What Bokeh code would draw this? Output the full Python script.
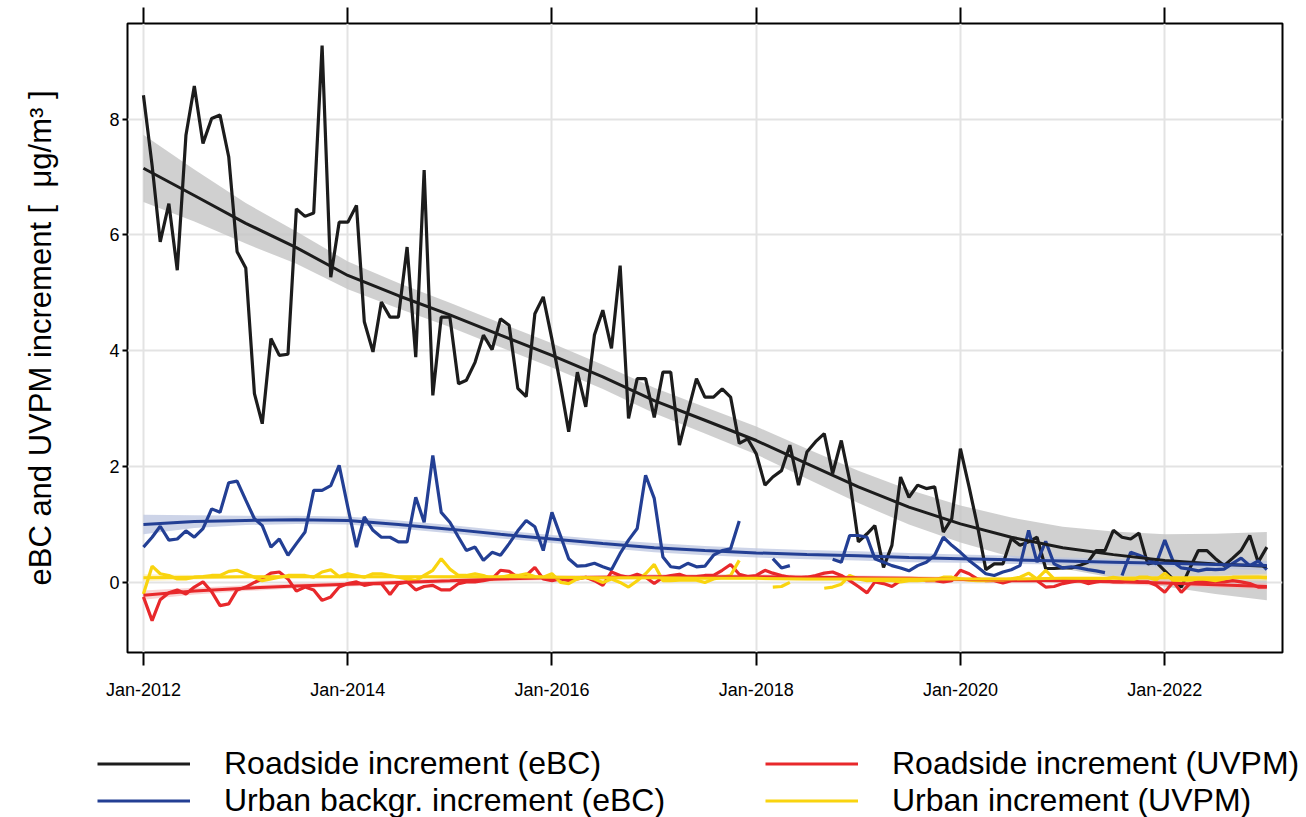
import datetime as dt
import pandas as pd
from bokeh.plotting import figure
from bokeh.layouts import column
from bokeh.models import (Range1d, FixedTicker, DatetimeTickFormatter, DatetimeAxis,
                          CustomJSTickFormatter, Legend, LegendItem)
from bokeh.embed import file_html
from bokeh.resources import INLINE

nan = float("nan")

# ---------------- data (monthly, Jan-2012 .. Jan-2023) ----------------
months = pd.date_range("2012-01-01", periods=133, freq="MS")

roadside_ebc = [
    8.41, 7.20, 5.88, 6.54, 5.39, 7.72, 8.57, 7.58, 8.01, 8.07, 7.35, 5.71,
    5.43, 3.26, 2.74, 4.21, 3.92, 3.94, 6.45, 6.32, 6.38, 9.27, 5.27, 6.22,
    6.22, 6.51, 4.50, 3.98, 4.84, 4.58, 4.58, 5.79, 3.89, 7.12, 3.23, 4.58,
    4.58, 3.43, 3.49, 3.80, 4.27, 4.02, 4.55, 4.44, 3.35, 3.21, 4.64, 4.93,
    4.20, 3.40, 2.60, 3.63, 3.03, 4.27, 4.70, 4.04, 5.47, 2.83, 3.52, 3.52,
    2.85, 3.63, 3.63, 2.37, 2.94, 3.52, 3.20, 3.20, 3.34, 3.20, 2.40, 2.48,
    2.22, 1.68, 1.82, 1.93, 2.37, 1.68, 2.25, 2.43, 2.57, 1.88, 2.45, 1.76,
    0.70, 0.84, 0.98, 0.26, 0.64, 1.82, 1.47, 1.68, 1.62, 1.65, 0.87, 1.10,
    2.31, 1.65, 1.00, 0.22, 0.32, 0.32, 0.76, 0.64, 0.70, 0.78, 0.24, 0.24,
    0.25, 0.25, 0.29, 0.35, 0.55, 0.55, 0.90, 0.78, 0.75, 0.85, 0.32, 0.35,
    0.20, 0.05, -0.08, 0.25, 0.55, 0.55, 0.41, 0.29, 0.42, 0.55, 0.81, 0.35,
    0.61]

urban_ebc = [
    0.61, 0.78, 0.97, 0.73, 0.75, 0.89, 0.78, 0.93, 1.27, 1.21, 1.72, 1.75,
    1.42, 1.10, 0.98, 0.61, 0.75, 0.47, 0.67, 0.87, 1.59, 1.59, 1.67, 2.02,
    1.30, 0.61, 1.13, 0.90, 0.78, 0.78, 0.70, 0.70, 1.47, 1.04, 2.19, 1.21,
    1.04, 0.78, 0.55, 0.61, 0.38, 0.52, 0.47, 0.67, 0.89, 1.07, 0.96, 0.55,
    1.21, 0.80, 0.41, 0.28, 0.29, 0.33, 0.27, 0.22, 0.50, 0.73, 0.93, 1.85,
    1.45, 0.44, 0.27, 0.25, 0.33, 0.27, 0.28, 0.47, 0.55, 0.58, 1.06, nan,
    nan, nan, 0.41, 0.25, 0.29, nan, nan, nan, nan, 0.40, 0.35, 0.81,
    0.81, 0.78, 0.41, 0.35, 0.29, 0.25, 0.20, 0.29, 0.35, 0.47, 0.78, 0.64,
    0.52, 0.38, 0.27, 0.15, 0.12, 0.18, 0.22, 0.29, 0.90, 0.35, 0.71, 0.32,
    0.25, 0.27, 0.25, 0.22, 0.20, 0.17, nan, 0.12, 0.52, 0.47, 0.41, 0.32,
    0.73, 0.35, 0.25, 0.23, 0.20, 0.23, 0.22, 0.23, 0.33, 0.42, 0.29, 0.37,
    0.22]

roadside_uvpm = [
    -0.25, -0.66, -0.30, -0.18, -0.13, -0.20, -0.08, 0.01, -0.16, -0.40, -0.37, -0.13,
    -0.08, 0.00, 0.06, 0.16, 0.18, 0.06, -0.15, -0.08, -0.13, -0.31, -0.25, -0.08,
    -0.02, 0.01, -0.05, -0.02, -0.02, -0.21, -0.02, 0.01, -0.13, -0.07, -0.05, -0.13,
    -0.13, -0.02, 0.01, 0.01, 0.03, 0.06, 0.21, 0.19, 0.09, 0.12, 0.26, 0.06,
    0.03, 0.06, 0.03, 0.06, 0.09, 0.03, -0.05, 0.18, 0.12, 0.09, 0.14, 0.09,
    -0.02, 0.09, 0.12, 0.14, 0.09, 0.10, 0.12, 0.12, 0.21, 0.31, 0.14, 0.10,
    0.12, 0.21, 0.16, 0.12, 0.09, 0.08, 0.09, 0.12, 0.16, 0.18, 0.12, 0.03,
    -0.07, -0.18, 0.01, -0.02, -0.07, 0.03, 0.06, 0.06, 0.03, 0.03, 0.01, 0.03,
    0.21, 0.15, 0.06, 0.03, 0.03, -0.01, 0.03, 0.03, 0.03, 0.03, -0.08, -0.07,
    -0.02, 0.01, 0.03, -0.02, 0.01, 0.03, 0.01, 0.01, 0.03, 0.01, 0.01, -0.05,
    -0.17, 0.01, -0.17, -0.02, 0.01, 0.02, 0.01, 0.01, 0.03, 0.01, -0.02, -0.08,
    -0.08]

urban_uvpm = [
    -0.20, 0.28, 0.15, 0.12, 0.06, 0.06, 0.09, 0.10, 0.12, 0.12, 0.19, 0.21,
    0.15, 0.09, 0.03, 0.06, 0.09, 0.12, 0.12, 0.12, 0.09, 0.18, 0.22, 0.10,
    0.15, 0.12, 0.09, 0.15, 0.15, 0.12, 0.09, 0.06, 0.03, 0.12, 0.21, 0.41,
    0.23, 0.12, 0.12, 0.15, 0.12, 0.06, 0.09, 0.12, 0.12, 0.15, 0.10, 0.09,
    0.15, 0.00, -0.02, 0.06, 0.09, 0.06, 0.00, 0.06, 0.00, -0.08, 0.03, 0.15,
    0.31, 0.03, 0.03, 0.04, 0.04, 0.04, 0.00, 0.06, 0.09, 0.12, 0.38, nan,
    nan, nan, -0.08, -0.07, 0.00, nan, nan, nan, -0.10, -0.08, -0.03, 0.12,
    0.06, 0.03, 0.04, 0.03, 0.03, 0.01, 0.03, 0.03, 0.04, 0.04, 0.09, 0.09,
    0.06, 0.04, 0.03, 0.03, 0.04, 0.04, 0.06, 0.09, 0.16, 0.06, 0.21, 0.06,
    0.04, 0.04, 0.03, 0.03, 0.04, 0.06, 0.09, 0.06, 0.03, 0.09, 0.09, 0.04,
    0.16, 0.03, 0.04, 0.04, 0.06, 0.05, 0.03, 0.06, 0.09, 0.09, 0.09, 0.09,
    0.08]

# smooth trends (every 6 months) with confidence bands
smooth_dates = pd.date_range("2012-01-01", periods=23, freq="6MS")
fit_road_ebc = [7.15, 6.68, 6.20, 5.78, 5.30, 4.95, 4.62, 4.27, 3.92, 3.55, 3.14, 2.80,
                2.45, 2.05, 1.65, 1.30, 1.01, 0.78, 0.60, 0.48, 0.38, 0.32, 0.28]
lo_road_ebc = [6.57, 6.23, 5.85, 5.50, 5.06, 4.73, 4.41, 4.06, 3.71, 3.34, 2.92, 2.57,
               2.21, 1.79, 1.37, 1.00, 0.69, 0.44, 0.24, 0.08, -0.07, -0.20, -0.31]
hi_road_ebc = [7.73, 7.13, 6.55, 6.06, 5.54, 5.17, 4.83, 4.48, 4.13, 3.76, 3.36, 3.03,
               2.69, 2.31, 1.93, 1.60, 1.33, 1.12, 0.96, 0.88, 0.83, 0.84, 0.87]
fit_urb_ebc = [1.00, 1.05, 1.07, 1.08, 1.07, 1.00, 0.92, 0.83, 0.75, 0.67, 0.60, 0.55,
               0.51, 0.48, 0.46, 0.43, 0.41, 0.39, 0.37, 0.35, 0.33, 0.31, 0.29]
lo_urb_ebc = [0.83, 0.94, 0.99, 1.01, 1.00, 0.93, 0.85, 0.76, 0.68, 0.60, 0.52, 0.47,
              0.43, 0.40, 0.38, 0.35, 0.34, 0.32, 0.31, 0.29, 0.27, 0.24, 0.21]
hi_urb_ebc = [1.17, 1.16, 1.15, 1.15, 1.14, 1.07, 0.99, 0.90, 0.82, 0.74, 0.68, 0.63,
              0.59, 0.56, 0.54, 0.51, 0.48, 0.46, 0.43, 0.41, 0.39, 0.38, 0.37]
fit_road_uv = [-0.22, -0.15, -0.10, -0.06, -0.03, 0.00, 0.03, 0.06, 0.08, 0.09, 0.10, 0.10,
               0.10, 0.09, 0.08, 0.07, 0.05, 0.04, 0.03, 0.01, -0.01, -0.04, -0.07]
lo_road_uv = [-0.30, -0.21, -0.15, -0.10, -0.07, -0.04, -0.01, 0.02, 0.04, 0.05, 0.06, 0.06,
              0.06, 0.05, 0.04, 0.03, 0.01, 0.00, -0.01, -0.03, -0.06, -0.09, -0.13]
hi_road_uv = [-0.14, -0.09, -0.05, -0.02, 0.01, 0.04, 0.07, 0.10, 0.12, 0.13, 0.14, 0.14,
              0.14, 0.13, 0.12, 0.11, 0.09, 0.08, 0.07, 0.05, 0.04, 0.01, -0.01]
fit_urb_uv = [0.08, 0.09, 0.10, 0.10, 0.10, 0.10, 0.10, 0.10, 0.09, 0.08, 0.08, 0.07,
              0.07, 0.06, 0.06, 0.06, 0.06, 0.06, 0.07, 0.07, 0.08, 0.08, 0.09]
lo_urb_uv = [0.02, 0.05, 0.07, 0.07, 0.07, 0.07, 0.07, 0.07, 0.06, 0.05, 0.05, 0.04,
             0.04, 0.03, 0.03, 0.03, 0.03, 0.03, 0.04, 0.04, 0.05, 0.04, 0.03]
hi_urb_uv = [0.14, 0.13, 0.13, 0.13, 0.13, 0.13, 0.13, 0.13, 0.12, 0.11, 0.11, 0.10,
             0.10, 0.09, 0.09, 0.09, 0.09, 0.09, 0.10, 0.10, 0.11, 0.12, 0.15]

tick_years = [2012, 2014, 2016, 2018, 2020, 2022]
y_ticks = [0, 2, 4, 6, 8]
labels = ["Roadside increment (eBC)", "Urban backgr. increment (eBC)",
          "Roadside increment (UVPM)", "Urban increment (UVPM)"]

C_BLACK = "#1c1c1c"
C_BLUE = "#233f94"
C_RED = "#e8282b"
C_YELLOW = "#f9d40f"
FONT = "Liberation Sans"
LW = 3.2

# ---------------- main figure ----------------
p = figure(width=1306, height=728, x_axis_type="datetime",
           output_backend="svg", toolbar_location=None,
           x_range=Range1d(dt.datetime(2011, 11, 5), dt.datetime(2023, 2, 26)),
           y_range=Range1d(-1.21, 9.65),
           min_border_left=127, min_border_right=24, min_border_top=23,
           min_border_bottom=76)
p.background_fill_color = "white"
p.border_fill_color = "white"
p.outline_line_color = "black"
p.outline_line_width = 2
p.outline_line_alpha = 1.0

tick_ms = [pd.Timestamp(f"{y}-01-01").timestamp() * 1000 for y in tick_years]
xticker = FixedTicker(ticks=tick_ms)
fmt = DatetimeTickFormatter(years="%b-%Y", months="%b-%Y", days="%b-%Y",
                            hours="%b-%Y", minutes="%b-%Y", seconds="%b-%Y",
                            milliseconds="%b-%Y", microseconds="%b-%Y")
xa = p.xaxis[0]
xa.ticker = xticker
xa.formatter = fmt
xa.axis_line_color = None
xa.major_tick_out = 13
xa.major_tick_in = 0
xa.major_tick_line_width = 2
xa.major_tick_line_color = "black"
xa.minor_tick_line_color = None
xa.major_label_standoff = 14
xa.major_label_text_font = FONT
xa.major_label_text_font_size = "18px"
xa.major_label_text_color = "black"

top = DatetimeAxis(ticker=xticker,
                   formatter=CustomJSTickFormatter(code="return ''"))
top.axis_line_color = None
top.major_tick_out = 16
top.major_tick_in = 0
top.major_tick_line_width = 2
top.major_tick_line_color = "black"
top.minor_tick_line_color = None
top.major_label_text_font_size = "1px"
top.major_label_standoff = 0
p.add_layout(top, "above")

ya = p.yaxis[0]
ya.ticker = FixedTicker(ticks=y_ticks)
ya.axis_line_color = None
ya.major_tick_out = 5
ya.major_tick_in = 0
ya.major_tick_line_width = 2
ya.major_tick_line_color = "black"
ya.minor_tick_line_color = None
ya.major_label_standoff = 3
ya.major_label_text_font = FONT
ya.major_label_text_font_size = "18px"
ya.major_label_text_color = "black"
ya.axis_label = "eBC and UVPM increment [ \u00a0μg/m³ ]"
ya.axis_label_text_font = FONT
ya.axis_label_text_font_size = "31px"
ya.axis_label_text_font_style = "normal"
ya.axis_label_text_color = "black"
ya.axis_label_standoff = 48

p.xgrid.ticker = xticker
p.ygrid.ticker = FixedTicker(ticks=y_ticks)
p.grid.grid_line_color = "#e3e3e3"
p.grid.grid_line_width = 2

# confidence bands
p.varea(x=smooth_dates, y1=lo_road_ebc, y2=hi_road_ebc, fill_color="#c4c4c4", fill_alpha=0.8)
p.varea(x=smooth_dates, y1=lo_urb_ebc, y2=hi_urb_ebc, fill_color="#bcc6e0", fill_alpha=0.75)
p.varea(x=smooth_dates, y1=lo_road_uv, y2=hi_road_uv, fill_color="#f5b8b8", fill_alpha=0.6)
p.varea(x=smooth_dates, y1=lo_urb_uv, y2=hi_urb_uv, fill_color="#fbe9a0", fill_alpha=0.6)

p.line(months, roadside_ebc, line_color=C_BLACK, line_width=LW)
p.line(months, urban_ebc, line_color=C_BLUE, line_width=LW)
p.line(months, roadside_uvpm, line_color=C_RED, line_width=LW)
p.line(months, urban_uvpm, line_color=C_YELLOW, line_width=LW)

p.line(smooth_dates, fit_road_ebc, line_color=C_BLACK, line_width=3)
p.line(smooth_dates, fit_urb_ebc, line_color=C_BLUE, line_width=3)
p.line(smooth_dates, fit_road_uv, line_color=C_RED, line_width=3)
p.line(smooth_dates, fit_urb_uv, line_color=C_YELLOW, line_width=3)

# ---------------- legend strip ----------------
q = figure(width=1306, height=89, output_backend="svg", toolbar_location=None,
           x_range=Range1d(0, 1), y_range=Range1d(0, 1),
           min_border_left=0, min_border_right=0, min_border_top=0,
           min_border_bottom=0)
q.axis.visible = False
q.grid.visible = False
q.outline_line_color = None
q.background_fill_color = "white"
q.border_fill_color = "white"
for fig in (p, q):
    try:
        fig.frame_align = False
    except Exception:
        pass

# legend-only renderers (their points sit outside the strip's visible range)
lr = []
for c in [C_BLACK, C_BLUE, C_RED, C_YELLOW]:
    lr.append(q.line(x=[-2, -1], y=[-2, -1], line_color=c, line_width=LW))


def make_legend(items, loc):
    lg = Legend(items=items, location=loc, orientation="vertical")
    lg.glyph_width = 93
    lg.glyph_height = 37
    lg.label_height = 37
    lg.label_standoff = 34
    lg.spacing = 0
    lg.padding = 0
    lg.margin = 0
    lg.border_line_color = None
    lg.background_fill_alpha = 0
    lg.label_text_font = FONT
    lg.label_text_font_size = "32px"
    lg.label_text_color = "black"
    lg.label_text_baseline = "middle"
    return lg


leg1 = make_legend([LegendItem(label=labels[0], renderers=[lr[0]]),
                    LegendItem(label=labels[1], renderers=[lr[1]])], (97, -2))
leg2 = make_legend([LegendItem(label=labels[2], renderers=[lr[2]]),
                    LegendItem(label=labels[3], renderers=[lr[3]])], (765, -2))
q.add_layout(leg1)
q.add_layout(leg2)

layout = column(p, q, spacing=0)
open("out.html", "w").write(file_html(layout, INLINE))
